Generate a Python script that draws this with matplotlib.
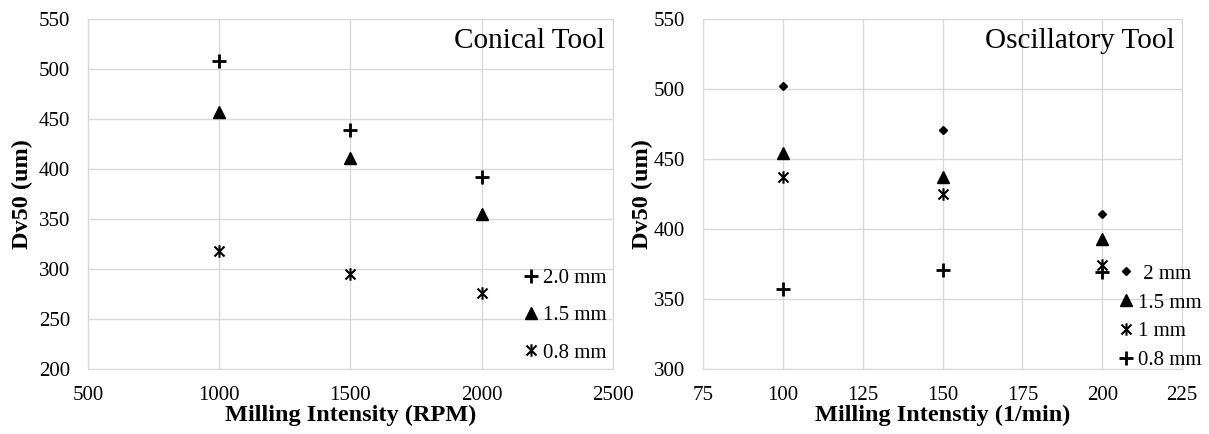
import matplotlib.pyplot as plt
from matplotlib.path import Path

plt.rcParams['font.family'] = ['Liberation Serif', 'DejaVu Serif']

# Conical tool
rpm = [1000, 1500, 2000]
con_20 = [508, 439, 392]
con_15 = [457, 411, 355]
con_08 = [318, 295, 276]

# Oscillatory tool
freq = [100, 150, 200]
osc_2 = [502, 471, 411]
osc_15 = [454, 437, 393]
osc_1 = [437, 425, 374]
osc_08 = [357, 371, 369]

# excel-style asterisk: an x with a vertical bar
star = Path([(-1, -1), (1, 1), (-1, 1), (1, -1), (0, -1.25), (0, 1.25)],
            [Path.MOVETO, Path.LINETO, Path.MOVETO, Path.LINETO, Path.MOVETO, Path.LINETO])

grid_c = '#d9d9d9'
fs = 15
lab_fs = 17.5


def style(ax, xlim, ylim, xticks, yticks):
    ax.set_xlim(*xlim)
    ax.set_ylim(*ylim)
    ax.set_xticks(xticks)
    ax.set_yticks(yticks)
    ax.grid(True, color=grid_c, linewidth=1)
    ax.set_axisbelow(True)
    for s in ax.spines.values():
        s.set_color(grid_c)
    ax.tick_params(axis='x', length=0, labelsize=fs, pad=12)
    ax.tick_params(axis='y', length=0, labelsize=fs, pad=13)


fig = plt.figure(figsize=(12.09, 4.34), dpi=100)
ax1 = fig.add_axes([0.0728, 0.15, 0.434, 0.806])
ax2 = fig.add_axes([0.5815, 0.15, 0.3962, 0.806])

ax1.plot(rpm, con_20, ls='none', marker='+', ms=10, mew=2, color='k', label='2.0 mm')
ax1.plot(rpm, con_15, ls='none', marker='^', ms=9, color='k', label='1.5 mm')
ax1.plot(rpm, con_08, ls='none', marker=star, ms=9, mew=1.5, mfc='none', color='k', label='0.8 mm')
style(ax1, (500, 2500), (200, 550), range(500, 2501, 500), range(200, 551, 50))
ax1.set_xlabel('Milling Intensity (RPM)', fontsize=lab_fs, fontweight='bold', labelpad=0)
ax1.set_ylabel('Dv50 (um)', fontsize=lab_fs, fontweight='bold')
ax1.yaxis.set_label_coords(-0.105, 0.5)
ax1.text(0.985, 0.975, 'Conical Tool', transform=ax1.transAxes, ha='right', va='top', fontsize=21)
ax1.legend(loc='lower left', bbox_to_anchor=(0.8, -0.03), frameon=False, fontsize=fs,
           handlelength=0.6, handletextpad=0.3, labelspacing=0.85, borderpad=0.3)

ax2.plot(freq, osc_2, ls='none', marker='D', ms=4, color='k', label=' 2 mm')
ax2.plot(freq, osc_15, ls='none', marker='^', ms=9, color='k', label='1.5 mm')
ax2.plot(freq, osc_1, ls='none', marker=star, ms=9, mew=1.5, mfc='none', color='k', label='1 mm')
ax2.plot(freq, osc_08, ls='none', marker='+', ms=10, mew=2, color='k', label='0.8 mm')
style(ax2, (75, 225), (300, 550), range(75, 226, 25), range(300, 551, 50))
ax2.set_xlabel('Milling Intenstiy (1/min)', fontsize=lab_fs, fontweight='bold', labelpad=0)
ax2.set_ylabel('Dv50 (um)', fontsize=lab_fs, fontweight='bold')
ax2.yaxis.set_label_coords(-0.104, 0.5)
ax2.text(0.985, 0.975, 'Oscillatory Tool', transform=ax2.transAxes, ha='right', va='top', fontsize=21)
ax2.legend(loc='lower left', bbox_to_anchor=(0.835, -0.052), frameon=False, fontsize=fs,
           handlelength=0.6, handletextpad=0.3, labelspacing=0.45, borderpad=0.3)

fig.savefig('out.png', dpi=100)
